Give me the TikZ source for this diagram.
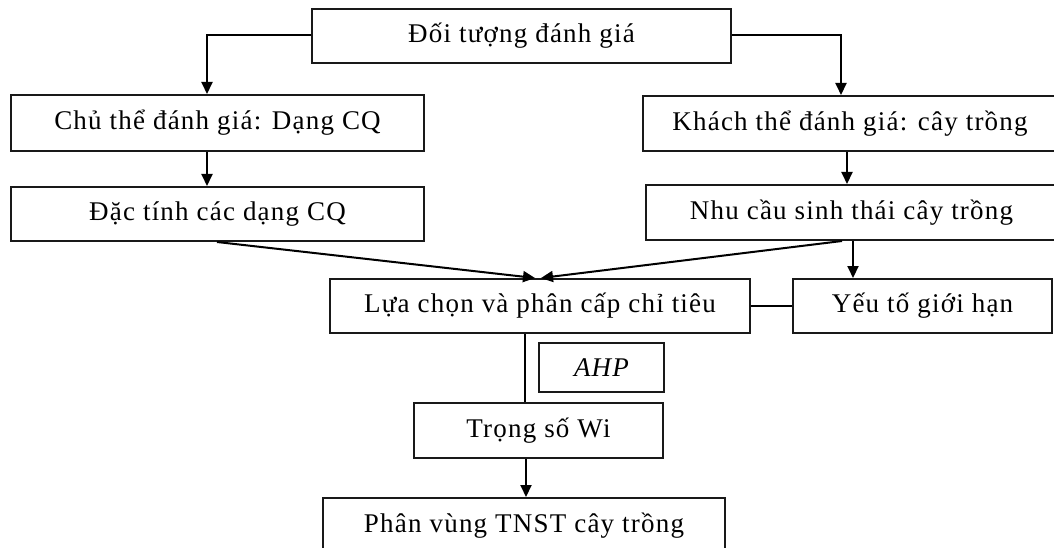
\documentclass[tikz,border=0pt]{standalone}
\usepackage{fontspec}
\setmainfont{Liberation Serif}[LetterSpace=4.5]
\usetikzlibrary{arrows.meta}
\begin{document}
\begin{tikzpicture}[x=1pt,y=-1pt,
  box/.style={draw=black!90, line width=2pt, rectangle, inner sep=0pt, font=\fontsize{27}{30}\selectfont},
  conn/.style={draw=black, line width=2pt},
  arr/.style={conn, -{Triangle[width=11pt,length=12pt]}}]
\useasboundingbox (0,0) rectangle (1054,548);
\clip (0,0) rectangle (1054,548);
\fill[white] (0,0) rectangle (1054,548);
% boxes: centre, width, height
\node[box, minimum width=419pt, minimum height=54pt] (top) at (521.5,36) {Đối tượng đánh giá};
\node[box, minimum width=413pt, minimum height=56pt] (chu) at (217.5,123) {Chủ thể đánh giá: Dạng CQ};
\node[box, minimum width=413pt, minimum height=54pt] (dac) at (217.5,214) {Đặc tính các dạng CQ};
\node[box, minimum width=414pt, minimum height=55pt] (khach) at (850,123.5) {Khách thể đánh giá: cây trồng};
\node[box, minimum width=411pt, minimum height=55pt] (nhu) at (851.5,212.5) {Nhu cầu sinh thái cây trồng};
\node[box, minimum width=420pt, minimum height=54pt] (lua) at (540,306) {Lựa chọn và phân cấp chỉ tiêu};
\node[box, minimum width=259pt, minimum height=54pt] (yeu) at (922.5,306) {Yếu tố giới hạn};
\node[box, minimum width=125pt, minimum height=49pt, font=\fontsize{27}{30}\selectfont\itshape] (ahp) at (601.5,367.5) {AHP};
\node[box, minimum width=249pt, minimum height=55pt] (trong) at (538.5,430.5) {Trọng số Wi};
\node[box, minimum width=402pt, minimum height=56pt] (phan) at (524,526) {Phân vùng TNST cây trồng};
% connectors
\coordinate (tl) at (207,35);
\coordinate (tr) at (841,35);
\draw[arr] (top.west |- tl) -- (tl) -- (tl |- chu.north);
\draw[arr] (top.east |- tr) -- (tr) -- (tr |- khach.north);
\coordinate (c1) at (207,0);
\draw[arr] (chu.south -| c1) -- (dac.north -| c1);
\coordinate (k1) at (847,0);
\draw[arr] (khach.south -| k1) -- (nhu.north -| k1);
\coordinate (d1) at (217,0);
\coordinate (l1) at (535,0);
\coordinate (n1) at (842,0);
\coordinate (l2) at (541,0);
\draw[arr] (dac.south -| d1) -- (lua.north -| l1);
\draw[arr] (nhu.south -| n1) -- (lua.north -| l2);
\coordinate (n2) at (853,0);
\draw[arr] (nhu.south -| n2) -- (yeu.north -| n2);
\draw[conn] (lua.east) -- (yeu.west);
\coordinate (w1) at (525,0);
\draw[conn] (lua.south -| w1) -- (trong.north -| w1);
\coordinate (w2) at (526,0);
\draw[arr] (trong.south -| w2) -- (phan.north -| w2);
\end{tikzpicture}
\end{document}
